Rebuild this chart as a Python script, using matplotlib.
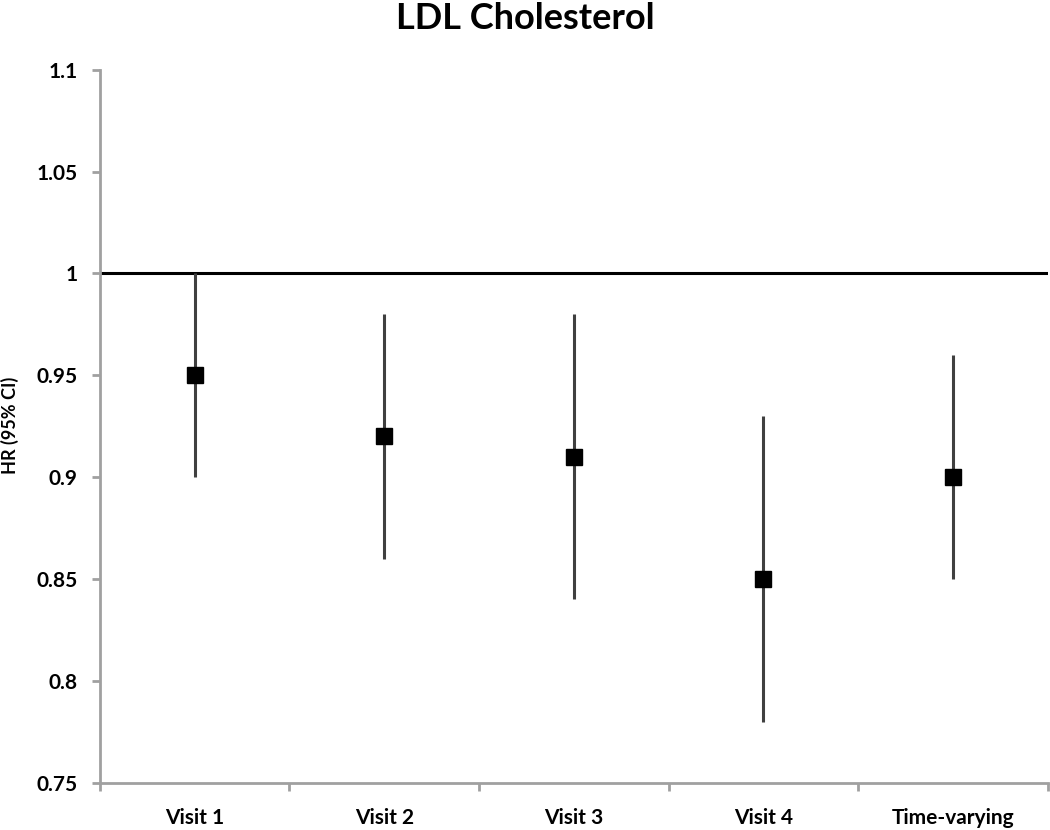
import matplotlib.pyplot as plt
import numpy as np

# hazard ratios
categories = ["Visit 1", "Visit 2", "Visit 3", "Visit 4", "Time-varying"]
hr = [0.95, 0.92, 0.91, 0.85, 0.90]
ci_low = [0.90, 0.86, 0.84, 0.78, 0.85]
ci_high = [1.00, 0.98, 0.98, 0.93, 0.96]
y_ticks = [0.75, 0.8, 0.85, 0.9, 0.95, 1, 1.05, 1.1]
y_tick_labels = ["0.75", "0.8", "0.85", "0.9", "0.95", "1", "1.05", "1.1"]

plt.rcParams['font.family'] = ['Lato', 'DejaVu Sans']

fig = plt.figure(figsize=(10.5, 8.3), dpi=100)
ax = fig.add_axes([0.095, 0.057, 0.903, 0.859])

x = np.arange(len(categories))
hr = np.array(hr)
err = [hr - np.array(ci_low), np.array(ci_high) - hr]

ax.axhline(1.0, color='black', lw=2.2, zorder=1)
ax.errorbar(x, hr, yerr=err, fmt='none', ecolor='#404040', elinewidth=2.2,
            capsize=0, zorder=2)
ax.plot(x, hr, 's', color='black', markersize=12, zorder=3)

ax.set_xlim(-0.5, len(categories) - 0.5)
ax.set_ylim(0.75, 1.1)
ax.set_yticks(y_ticks)
ax.set_yticklabels(y_tick_labels, fontsize=15, fontweight='bold')
ax.set_xticks(x)
ax.set_xticklabels(categories, fontsize=15, fontweight='bold')
ax.set_xticks(np.arange(-0.5, len(categories)), minor=True)
ax.tick_params(axis='x', which='major', length=0, pad=18)
ax.tick_params(axis='x', which='minor', length=6, width=2, color='#a0a0a0')
ax.tick_params(axis='y', length=6, width=2, color='#a0a0a0', pad=10)

for side in ['top', 'right']:
    ax.spines[side].set_visible(False)
for side in ['left', 'bottom']:
    ax.spines[side].set_color('#a0a0a0')
    ax.spines[side].set_linewidth(2)

# y label placed in figure coords so it hugs the left edge like the original
fig.text(0.009, 0.487, "HR (95% CI)", rotation=90, ha='center', va='center',
         fontsize=13, fontweight='bold')
fig.text(0.5, 0.978, "LDL Cholesterol", ha='center', va='center',
         fontsize=26, fontweight='bold')

fig.savefig("out.png", dpi=100)
